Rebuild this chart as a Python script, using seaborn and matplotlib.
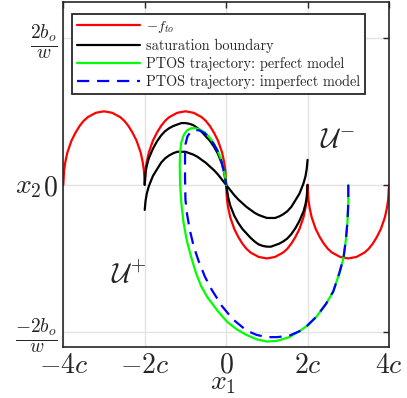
import numpy as np
import pandas as pd
import matplotlib
matplotlib.use("Agg")
import matplotlib.pyplot as plt
import seaborn as sns

# values (x1 in units of c, x2 in units of b_o/w)
red_x = [-4.0, -3.98, -3.95, -3.9, -3.8, -3.7, -3.6, -3.5, -3.4, -3.3, -3.2, -3.1, -3.0,
         -2.9, -2.8, -2.7, -2.6, -2.5, -2.4, -2.3, -2.2, -2.1, -2.05, -2.02,
         -2.0, -1.98, -1.95, -1.9, -1.8, -1.7, -1.6, -1.5, -1.4, -1.3, -1.2, -1.1, -1.0,
         -0.9, -0.8, -0.7, -0.6, -0.5, -0.4, -0.3, -0.2, -0.1, -0.05, -0.02,
         0.0, 0.02, 0.05, 0.1, 0.2, 0.3, 0.4, 0.5, 0.6, 0.7, 0.8, 0.9, 1.0,
         1.1, 1.2, 1.3, 1.4, 1.5, 1.6, 1.7, 1.8, 1.9, 1.95, 1.98,
         2.0, 2.02, 2.05, 2.1, 2.2, 2.3, 2.4, 2.5, 2.6, 2.7, 2.8, 2.9, 3.0,
         3.1, 3.2, 3.3, 3.4, 3.5, 3.6, 3.7, 3.8, 3.9, 3.95, 3.98, 4.0]
red_y = [0.0, 0.2, 0.31, 0.44, 0.6, 0.71, 0.8, 0.87, 0.92, 0.95, 0.98, 0.99, 1.0,
         0.99, 0.98, 0.95, 0.92, 0.87, 0.8, 0.71, 0.6, 0.44, 0.31, 0.2,
         0.0, 0.2, 0.31, 0.44, 0.6, 0.71, 0.8, 0.87, 0.92, 0.95, 0.98, 0.99, 1.0,
         0.99, 0.98, 0.95, 0.92, 0.87, 0.8, 0.71, 0.6, 0.44, 0.31, 0.2,
         0.0, -0.2, -0.31, -0.44, -0.6, -0.71, -0.8, -0.87, -0.92, -0.95, -0.98, -0.99, -1.0,
         -0.99, -0.98, -0.95, -0.92, -0.87, -0.8, -0.71, -0.6, -0.44, -0.31, -0.2,
         0.0, -0.2, -0.31, -0.44, -0.6, -0.71, -0.8, -0.87, -0.92, -0.95, -0.98, -0.99, -1.0,
         -0.99, -0.98, -0.95, -0.92, -0.87, -0.8, -0.71, -0.6, -0.44, -0.31, -0.2, 0.0]

sat_x = [-2.0, -1.98, -1.95, -1.9, -1.8, -1.7, -1.6, -1.5, -1.4, -1.3, -1.2, -1.1, -1.0,
         -0.9, -0.8, -0.7, -0.6, -0.5, -0.4, -0.3, -0.2, -0.1, -0.05,
         0.0, 0.05, 0.1, 0.2, 0.3, 0.4, 0.5, 0.6, 0.7, 0.8, 0.9, 1.0,
         1.1, 1.2, 1.3, 1.4, 1.5, 1.6, 1.7, 1.8, 1.9, 1.95, 1.98, 2.0]
sat_outer = [0.0, 0.17, 0.26, 0.36, 0.49, 0.59, 0.67, 0.73, 0.77, 0.8, 0.82, 0.84, 0.84,
             0.83, 0.81, 0.77, 0.72, 0.66, 0.6, 0.52, 0.42, 0.28, 0.17,
             0.0, -0.17, -0.28, -0.42, -0.52, -0.6, -0.66, -0.72, -0.77, -0.81, -0.83, -0.84,
             -0.84, -0.82, -0.8, -0.77, -0.73, -0.67, -0.59, -0.49, -0.36, -0.26, -0.17, 0.0]
sat_inner = [-0.34, -0.22, -0.12, -0.02, 0.12, 0.21, 0.3, 0.36, 0.4, 0.43, 0.45, 0.45, 0.45,
             0.43, 0.41, 0.38, 0.34, 0.3, 0.25, 0.2, 0.14, 0.07, 0.035,
             0.0, -0.035, -0.07, -0.14, -0.2, -0.25, -0.3, -0.34, -0.38, -0.41, -0.43, -0.45,
             -0.45, -0.45, -0.43, -0.4, -0.36, -0.3, -0.21, -0.12, 0.02, 0.12, 0.22, 0.34]

perfect_x = [3.0, 3.0, 2.98, 2.94, 2.88, 2.78, 2.63, 2.45, 2.22, 2.0, 1.8, 1.55, 1.25, 1.0, 0.75, 0.5, 0.25,
             0.02, -0.2, -0.47, -0.62, -0.74, -0.86, -0.97, -1.05, -1.1, -1.13, -1.14, -1.13, -1.1, -1.04,
             -0.96, -0.86, -0.76, -0.64, -0.52, -0.42, -0.32, -0.22, -0.14, -0.07, -0.02, 0.0]
perfect_y = [0.0, -0.25, -0.5, -0.75, -1.0, -1.2, -1.45, -1.62, -1.79, -1.91, -1.99, -2.07, -2.12, -2.13, -2.1, -2.04, -1.96,
             -1.86, -1.72, -1.52, -1.37, -1.2, -0.98, -0.75, -0.5, -0.25, 0.0, 0.25, 0.45, 0.58, 0.68,
             0.74, 0.77, 0.77, 0.75, 0.71, 0.65, 0.58, 0.48, 0.37, 0.23, 0.1, 0.0]

imperfect_x = [3.0, 3.0, 2.98, 2.94, 2.88, 2.78, 2.63, 2.45, 2.22, 2.0, 1.8, 1.55, 1.25, 1.0, 0.75, 0.5, 0.17,
               -0.1, -0.35, -0.52, -0.68, -0.8, -0.89, -0.96, -1.0, -1.01, -1.01, -1.0, -0.95, -0.87,
               -0.76, -0.65, -0.52, -0.4, -0.3, -0.21, -0.13, -0.07, -0.02, 0.0]
imperfect_y = [0.0, -0.25, -0.5, -0.75, -1.0, -1.2, -1.45, -1.62, -1.79, -1.91, -1.99, -2.05, -2.07, -2.07, -2.04, -1.98, -1.83,
               -1.65, -1.43, -1.25, -1.03, -0.83, -0.62, -0.4, -0.2, 0.1, 0.4, 0.55, 0.66, 0.72,
               0.745, 0.74, 0.7, 0.63, 0.55, 0.46, 0.35, 0.22, 0.09, 0.0]

xticks = [-4, -2, 0, 2, 4]
xtick_labels = [r"$-4c$", r"$-2c$", r"$0$", r"$2c$", r"$4c$"]
yticks = [-2, 0, 2]
ytick_labels = [r"$\frac{-2b_o}{w}$", r"$0$", r"$\frac{2b_o}{w}$"]

sns.set_style("white")
plt.rcParams["font.family"] = "serif"
plt.rcParams["font.serif"] = ["cmr10", "DejaVu Serif"]
plt.rcParams["mathtext.fontset"] = "cm"
plt.rcParams["axes.unicode_minus"] = False

fig = plt.figure(figsize=(4.07, 3.98), dpi=100)
ax = fig.add_axes([63.3 / 407, 1 - 346.7 / 398, (389 - 63.3) / 407, (346.7 - 1.7) / 398])

lw = 1.6
sns.lineplot(x=red_x, y=red_y, sort=False, estimator=None, color="#ff0000", lw=lw, ax=ax)
sns.lineplot(x=sat_x, y=sat_outer, sort=False, estimator=None, color="black", lw=lw, ax=ax)
sns.lineplot(x=sat_x, y=sat_inner, sort=False, estimator=None, color="black", lw=lw, ax=ax)
sns.lineplot(x=perfect_x, y=perfect_y, sort=False, estimator=None, color="#00ff00", lw=lw, ax=ax)
sns.lineplot(x=imperfect_x, y=imperfect_y, sort=False, estimator=None, color="#0000ff", lw=lw, ax=ax)
ax.lines[-1].set_dashes((5.5, 3.5))

ax.set_xlim(-4, 4)
ax.set_ylim(-2.2, 2.49)
ax.set_xticks(xticks, xtick_labels, fontsize=20)
ax.set_yticks(yticks, ytick_labels, fontsize=20)
ax.tick_params(direction="in", top=True, right=True, length=4, width=1, color="#262626", pad=4)
ax.grid(True, color="#e3e3e3", lw=1)
for s in ax.spines.values():
    s.set_color("#262626")
    s.set_linewidth(1.2)

ax.set_xlabel(r"$x_1$", fontsize=20)
ax.xaxis.set_label_coords(0.49, -0.106)
ax.xaxis.label.set_va("center")
ax.set_ylabel(r"$x_2$", fontsize=20, rotation=0, ha="center", va="center")
ax.yaxis.set_label_coords(-0.108, 0.463)

ax.text(2.72, 0.61, r"$\mathcal{U}^{-}$", fontsize=20, ha="center", va="center")
ax.text(-2.41, -1.22, r"$\mathcal{U}^{+}$", fontsize=20, ha="center", va="center")

h = ax.lines
leg = ax.legend([h[0], h[1], h[3], h[4]],
                [r"$-f_{to}$", "saturation boundary", "PTOS trajectory: perfect model",
                 "PTOS trajectory: imperfect model"],
                loc="upper left", bbox_to_anchor=((72 - 63.3) / 325.7, (346.7 - 14) / 345),
                fontsize=10.3, frameon=True, fancybox=False, framealpha=1, edgecolor="#262626",
                handlelength=4.4, handletextpad=0.4, labelspacing=0.26, borderpad=0.35, borderaxespad=0)
leg.get_frame().set_linewidth(1.3)

fig.savefig("out.png", dpi=100)
